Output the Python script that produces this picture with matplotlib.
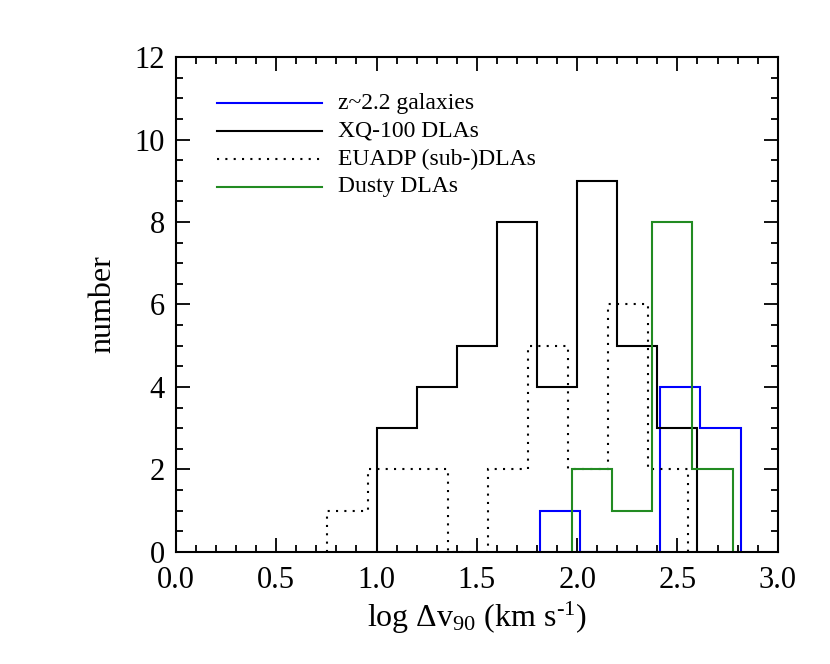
import numpy as np
import matplotlib
matplotlib.use('Agg')
import matplotlib.pyplot as plt
from matplotlib.ticker import MultipleLocator

plt.rcParams['font.family'] = 'Liberation Serif'
plt.rcParams['mathtext.fontset'] = 'custom'
plt.rcParams['mathtext.rm'] = 'Liberation Serif'
plt.rcParams['mathtext.it'] = 'Liberation Serif:italic'
plt.rcParams['mathtext.default'] = 'regular'

# histogram bin edges and counts
gal_edges = [1.815, 2.015, 2.215, 2.415, 2.615, 2.815]
gal_counts = [1, 0, 0, 4, 3]

xq_edges = [1.0, 1.2, 1.4, 1.6, 1.8, 2.0, 2.2, 2.4, 2.6]
xq_counts = [3, 4, 5, 8, 4, 9, 5, 3]

euadp_edges = [0.755, 0.955, 1.155, 1.355, 1.555, 1.755, 1.955, 2.155, 2.355, 2.555]
euadp_counts = [1, 2, 2, 0, 2, 5, 2, 6, 2]

dusty_edges = [1.975, 2.175, 2.375, 2.575, 2.775]
dusty_counts = [2, 1, 8, 2]

labels = ['z~2.2 galaxies', 'XQ-100 DLAs', 'EUADP (sub-)DLAs', 'Dusty DLAs']
colors = ['blue', 'black', 'black', '#228B22']
styles = ['-', '-', (0, (1, 3)), '-']

fig = plt.figure(figsize=(8.3, 6.64), dpi=100)
ax = fig.add_axes([0.212, 0.169, 0.725, 0.745])

series = [(gal_counts, gal_edges), (xq_counts, xq_edges),
          (euadp_counts, euadp_edges), (dusty_counts, dusty_edges)]
for (cnt, edg), c, ls in zip(series, colors, styles):
    ax.stairs(cnt, edg, color=c, linestyle=ls, linewidth=1.5, baseline=0)

ax.set_xlim(0, 3.0)
ax.set_ylim(0, 12)
ax.xaxis.set_major_locator(MultipleLocator(0.5))
ax.xaxis.set_minor_locator(MultipleLocator(0.1))
ax.yaxis.set_major_locator(MultipleLocator(2))
ax.yaxis.set_minor_locator(MultipleLocator(0.5))
ax.xaxis.set_major_formatter(matplotlib.ticker.FormatStrFormatter('%.1f'))
ax.tick_params(which='both', direction='in', top=True, right=True, width=1.3,
               labelsize=22)
ax.tick_params(axis='x', pad=10)
ax.tick_params(axis='y', pad=8)
ax.tick_params(which='major', length=10)
ax.tick_params(which='minor', length=5)
for s in ax.spines.values():
    s.set_linewidth(1.5)
    s.set_zorder(5)

ax.set_xlabel(r'log $\Delta$v$_{90}$ (km s$^{\text{-}1}$)', fontsize=23, labelpad=4)
ax.set_ylabel('number', fontsize=23, labelpad=12)

# legend drawn by hand
rows = [0.9065, 0.8505, 0.794, 0.738]
for lab, c, ls, yy in zip(labels, colors, styles, rows):
    ax.plot([0.068, 0.2425], [yy, yy], transform=ax.transAxes, color=c,
            linestyle=ls, linewidth=1.5)
    ax.text(0.269, yy, lab, transform=ax.transAxes, fontsize=17, va='center')

fig.savefig('out.png', dpi=100, facecolor='white')
